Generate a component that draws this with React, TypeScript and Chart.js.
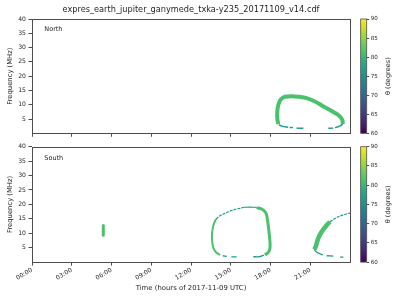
import React, { useEffect, useRef } from 'react';
import { Chart, registerables } from 'chart.js';

Chart.register(...registerables);

const FONT = 'DejaVu Sans';
const TEXT = '#262626';
const SPINE = '#4d4d4d';
const GREEN = '#4ac26b';
const TEAL = '#1f9d89';

const TITLE = 'expres_earth_jupiter_ganymede_txka-y235_20171109_v14.cdf';
const X_TITLE = 'Time (hours of 2017-11-09 UTC)';
const Y_TITLE = 'Frequency (MHz)';
const CB_TITLE = 'θ (degrees)';
const PANEL_NAMES = ['North', 'South'];

const hourTicks = [0, 3, 6, 9, 12, 15, 18, 21];
const hourLabels = ['00:00', '03:00', '06:00', '09:00', '12:00', '15:00', '18:00', '21:00'];
const freqTicks = [5, 10, 15, 20, 25, 30, 35, 40];
const thetaTicks = [60, 65, 70, 75, 80, 85, 90];
const viridisStops = ['#440154', '#482475', '#414487', '#355f8d', '#2a788e', '#21918c', '#22a884', '#44bf70', '#7ad151', '#bddf26', '#fde725'];

// North hemisphere emission (hours, MHz)
const northBandTime = [18.59, 18.51, 18.51, 18.59, 18.77, 19.09, 19.6, 20.1, 20.73, 21.36, 21.99, 22.62, 23.12, 23.42, 23.45];
const northBandFreq = [3.2, 5.2, 7.6, 9.9, 11.8, 12.8, 13.0, 12.8, 12.3, 11.1, 9.4, 7.8, 6.4, 4.7, 3.2];
const northLowTime = [18.62, 18.85, 19.1, 19.34, null, 19.45, 19.7, null, 19.95, 20.48, null, 22.36, 22.74, null, 22.87, 23.1, 23.3, 23.45];
const northLowFreq = [3.0, 2.5, 2.3, 2.1, null, 2.05, 2.0, null, 1.8, 1.75, null, 1.75, 1.8, null, 2.0, 2.3, 2.7, 3.2];

// South hemisphere emission (hours, MHz)
const southSpotTime = [5.38, 5.38];
const southSpotFreq = [9.3, 12.7];
const loopALeftTime = [13.89, 13.74, 13.64, 13.58, 13.6, 13.68, 13.89, 14.19];
const loopALeftFreq = [14.9, 13.4, 11.7, 9.4, 7.1, 5.0, 3.4, 2.5];
const loopATopLeftTime = [13.89, 14.19, 14.57, 14.94, 15.32, 15.7, 15.95];
const loopATopLeftFreq = [14.9, 16.1, 16.9, 17.7, 18.3, 18.64, 19.0];
const loopATopTime = [15.95, 16.45, 16.95];
const loopATopFreq = [19.0, 19.05, 19.0];
const loopARightTime = [16.95, 17.33, 17.58, 17.71, 17.79, 17.86, 17.91, 17.96, 17.96, 17.84, 17.58];
const loopARightFreq = [18.9, 18.4, 17.5, 16.3, 14.0, 11.7, 9.4, 7.1, 4.8, 3.4, 2.5];
const loopABottomTime = [14.4, 14.7, null, 15.05, 15.45, null, 16.7, 17.2, 17.5];
const loopABottomFreq = [2.2, 2.0, null, 1.8, 1.8, null, 1.85, 1.9, 2.4];
const loopBBandTime = [21.3, 21.41, 21.6, 21.86, 22.19, 22.49];
const loopBBandFreq = [4.4, 5.3, 8.2, 10.5, 12.5, 14.0];
const loopBUpperTime = [22.49, 22.74, 23.12, 23.5, 24.0];
const loopBUpperFreq = [14.0, 14.8, 15.7, 16.4, 17.0];
const loopBLowerTime = [21.3, 21.49, 21.74, 21.95, null, 22.24, 22.74, null, 23.25, 23.5];
const loopBLowerFreq = [4.4, 3.4, 2.9, 2.5, null, 2.2, 2.1, null, 1.7, 1.7];

type Num = number | null;
const zip = (t: Num[], f: Num[]) => t.map((x, i) => ({ x, y: f[i] }));

const line = (t: Num[], f: Num[], color: string, width: number, dash: number[] = [], cap = 'butt') => ({
  data: zip(t, f),
  showLine: true,
  borderColor: color,
  backgroundColor: color,
  borderWidth: width,
  borderDash: dash,
  borderCapStyle: cap,
  borderJoinStyle: 'round',
  pointRadius: 0,
  tension: 0.3,
  spanGaps: false,
});

const northDatasets = () => [
  line(northLowTime, northLowFreq, TEAL, 1.4),
  line(northBandTime, northBandFreq, GREEN, 4),
];

const southDatasets = () => [
  line(southSpotTime, southSpotFreq, GREEN, 3, [], 'round'),
  line(loopATopLeftTime, loopATopLeftFreq, TEAL, 1.2, [3, 1]),
  line(loopATopTime, loopATopFreq, TEAL, 1.2),
  line(loopABottomTime, loopABottomFreq, TEAL, 1.3),
  line(loopALeftTime, loopALeftFreq, GREEN, 2),
  line(loopARightTime, loopARightFreq, GREEN, 3),
  line(loopBUpperTime, loopBUpperFreq, TEAL, 1.2, [3, 1]),
  line(loopBLowerTime, loopBLowerFreq, TEAL, 1.3),
  line(loopBBandTime, loopBBandFreq, GREEN, 4.5),
];

const panelPlugin = {
  id: 'panelDecor',
  afterDatasetsDraw(chart: any, _args: any, opts: any) {
    const { ctx, chartArea: a } = chart;
    ctx.save();
    ctx.strokeStyle = SPINE;
    ctx.lineWidth = 1;
    ctx.strokeRect(Math.round(a.left) + 0.5, Math.round(a.top) + 0.5, Math.round(a.right) - Math.round(a.left), Math.round(a.bottom) - Math.round(a.top));
    ctx.fillStyle = TEXT;
    ctx.font = `6.5px "${FONT}"`;
    ctx.textAlign = 'left';
    ctx.textBaseline = 'middle';
    ctx.fillText(opts.text, a.left + opts.dx, a.top + opts.dy);
    ctx.restore();
  },
};

const colorbarPlugin = {
  id: 'colorbarDecor',
  beforeDatasetsDraw(chart: any, _args: any, opts: any) {
    const { ctx, chartArea: a } = chart;
    ctx.save();
    const g = ctx.createLinearGradient(0, a.bottom, 0, a.top);
    viridisStops.forEach((c, i) => g.addColorStop(i / (viridisStops.length - 1), c));
    ctx.fillStyle = g;
    ctx.fillRect(a.left, a.top, a.right - a.left, a.bottom - a.top);
    ctx.strokeStyle = SPINE;
    ctx.lineWidth = 0.8;
    ctx.strokeRect(a.left, a.top, a.right - a.left, a.bottom - a.top);
    ctx.translate(opts.labelX, (a.top + a.bottom) / 2);
    ctx.rotate(-Math.PI / 2);
    ctx.fillStyle = TEXT;
    ctx.font = `6.6px "${FONT}"`;
    ctx.textAlign = 'center';
    ctx.textBaseline = 'middle';
    ctx.fillText(CB_TITLE, 0, 0);
    ctx.restore();
  },
};

const tickFont = { family: FONT, size: 6.1 };

const mainOptions = (cfg: { padTop: number; xH: number; title: boolean; xLabels: boolean; name: string; nameDy: number }) => ({
  responsive: false,
  animation: false,
  devicePixelRatio: 1,
  layout: { padding: { left: 0, right: 6, top: cfg.padTop, bottom: 0 } },
  plugins: {
    legend: { display: false },
    tooltip: { enabled: false },
    title: cfg.title
      ? { display: true, text: TITLE, fullSize: false, color: TEXT, font: { family: FONT, size: 8.2, weight: 'normal' }, padding: { top: 5, bottom: 4.16 } }
      : { display: false },
    panelDecor: { text: cfg.name, dx: 12.3, dy: cfg.nameDy },
  },
  scales: {
    x: {
      type: 'linear',
      min: 0,
      max: 24,
      afterBuildTicks: (s: any) => { s.ticks = hourTicks.map((v) => ({ value: v })); },
      afterFit: (s: any) => { s.height = cfg.xH; },
      ticks: {
        autoSkip: false,
        minRotation: 30,
        maxRotation: 30,
        padding: 1,
        color: TEXT,
        font: tickFont,
        callback: (_v: any, i: number) => (cfg.xLabels ? hourLabels[i] : ''),
      },
      grid: { drawOnChartArea: false, drawTicks: true, tickLength: 3.5, color: SPINE, lineWidth: 1 },
      border: { display: false },
      title: cfg.xLabels
        ? { display: true, text: X_TITLE, color: TEXT, font: { family: FONT, size: 6.9 }, padding: { top: 0, bottom: 7.9 } }
        : { display: false },
    },
    y: {
      type: 'linear',
      min: 0,
      max: 40,
      afterBuildTicks: (s: any) => { s.ticks = freqTicks.map((v) => ({ value: v })); },
      afterFit: (s: any) => { s.width = 32; },
      ticks: { padding: 2.5, color: TEXT, font: tickFont, callback: (v: any) => String(v) },
      grid: { drawOnChartArea: false, drawTicks: true, tickLength: 3.5, color: SPINE, lineWidth: 1 },
      border: { display: false },
      title: { display: true, text: Y_TITLE, color: TEXT, font: { family: FONT, size: 6.8 }, padding: { top: 6, bottom: 0 } },
    },
  },
});

const cbOptions = (padTop: number, padBottom: number) => ({
  responsive: false,
  animation: false,
  devicePixelRatio: 1,
  layout: { padding: { left: 5.7, right: 0, top: padTop, bottom: padBottom } },
  plugins: { legend: { display: false }, tooltip: { enabled: false }, title: { display: false }, colorbarDecor: { labelX: 33 } },
  scales: {
    x: { display: false },
    y: {
      position: 'right',
      min: 60,
      max: 90,
      afterBuildTicks: (s: any) => { s.ticks = thetaTicks.map((v) => ({ value: v })); },
      afterFit: (s: any) => { s.width = 33.3; },
      ticks: { padding: 1.5, color: TEXT, font: { family: FONT, size: 5.6 }, callback: (v: any) => String(v) },
      grid: { drawOnChartArea: false, drawTicks: true, tickLength: 2.5, color: SPINE, lineWidth: 1 },
      border: { display: false },
    },
  },
});

export default function App() {
  const northRef = useRef<HTMLCanvasElement>(null);
  const southRef = useRef<HTMLCanvasElement>(null);
  const cbNorthRef = useRef<HTMLCanvasElement>(null);
  const cbSouthRef = useRef<HTMLCanvasElement>(null);

  useEffect(() => {
    const charts: Chart[] = [];
    charts.push(
      new Chart(northRef.current!, {
        type: 'scatter',
        data: { datasets: northDatasets() as any },
        options: mainOptions({ padTop: 0, xH: 6.7, title: true, xLabels: false, name: PANEL_NAMES[0], nameDy: 10.3 }) as any,
        plugins: [panelPlugin],
      })
    );
    charts.push(
      new Chart(southRef.current!, {
        type: 'scatter',
        data: { datasets: southDatasets() as any },
        options: mainOptions({ padTop: 6.7, xH: 37.9, title: false, xLabels: true, name: PANEL_NAMES[1], nameDy: 11.6 }) as any,
        plugins: [panelPlugin],
      })
    );
    charts.push(
      new Chart(cbNorthRef.current!, {
        type: 'scatter',
        data: { datasets: [] },
        options: cbOptions(19, 6.7) as any,
        plugins: [colorbarPlugin],
      })
    );
    charts.push(
      new Chart(cbSouthRef.current!, {
        type: 'scatter',
        data: { datasets: [] },
        options: cbOptions(6.7, 37.9) as any,
        plugins: [colorbarPlugin],
      })
    );
    return () => charts.forEach((c) => c.destroy());
  }, []);

  const abs = (left: number, top: number, w: number, h: number): React.CSSProperties => ({
    position: 'absolute',
    left,
    top,
    width: w,
    height: h,
  });

  return (
    <div style={{ position: 'absolute', left: 0, top: 0, width: 400, height: 300, background: '#fff' }}>
      <canvas ref={northRef} width={356} height={140} style={abs(0, 0, 356, 140)} />
      <canvas ref={southRef} width={356} height={160} style={abs(0, 140, 356, 160)} />
      <canvas ref={cbNorthRef} width={45} height={140} style={abs(355, 0, 45, 140)} />
      <canvas ref={cbSouthRef} width={45} height={160} style={abs(355, 140, 45, 160)} />
    </div>
  );
}
